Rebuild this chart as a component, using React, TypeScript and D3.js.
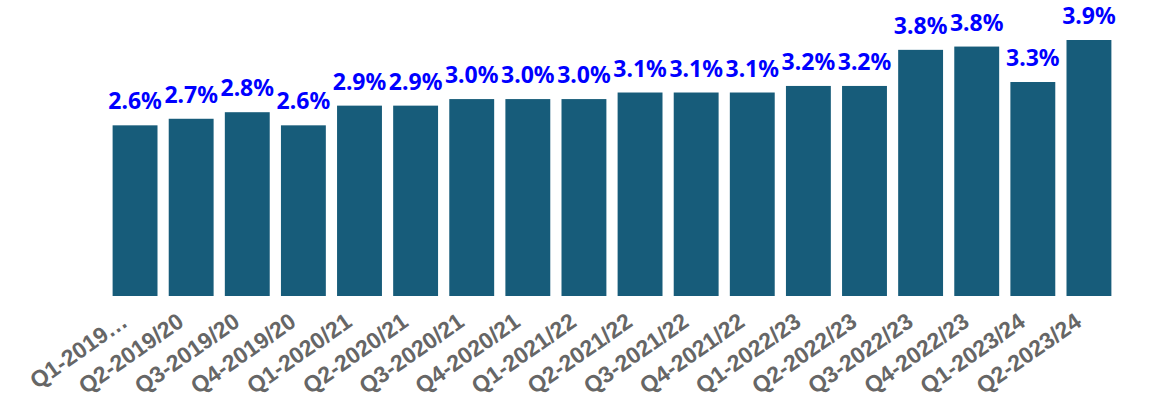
import React from 'react'
import * as d3 from 'd3'

const quarters = [
  'Q1-2019…', 'Q2-2019/20', 'Q3-2019/20', 'Q4-2019/20',
  'Q1-2020/21', 'Q2-2020/21', 'Q3-2020/21', 'Q4-2020/21',
  'Q1-2021/22', 'Q2-2021/22', 'Q3-2021/22', 'Q4-2021/22',
  'Q1-2022/23', 'Q2-2022/23', 'Q3-2022/23', 'Q4-2022/23',
  'Q1-2023/24', 'Q2-2023/24',
]
const rates = [
  2.6, 2.7, 2.8, 2.6, 2.9, 2.9, 3.0, 3.0, 3.0,
  3.1, 3.1, 3.1, 3.2, 3.2, 3.75, 3.8, 3.26, 3.9,
]

const width = 1149
const height = 398

const App: React.FC = () => {
  const x = d3.scaleBand<string>()
    .domain(quarters)
    .range([107, 1117])
    .paddingInner(0.2)
    .paddingOuter(0.1)

  const y = d3.scaleLinear()
    .domain([0, 3.9])
    .range([296, 40])

  return (
    <svg width={width} height={height} style={{ position: 'absolute', left: 0, top: 0 }}>
      {quarters.map((q, i) => (
        <rect key={q} x={x(q)} y={y(rates[i])} width={x.bandwidth()}
          height={y(0) - y(rates[i])} fill="#175c7a" />
      ))}
      {quarters.map((q, i) => (
        <text key={'v' + q} x={(x(q) as number) + x.bandwidth() / 2} y={y(rates[i]) - 16}
          textAnchor="middle" fill="#0000ff" fontFamily="'Noto Sans', sans-serif"
          fontWeight="bold" fontSize={23}>
          {rates[i].toFixed(1)}%
        </text>
      ))}
      {quarters.map(q => (
        <text key={'t' + q}
          transform={`translate(${(x(q) as number) + x.bandwidth() / 2 - 6},325) rotate(-35)`}
          textAnchor="end" fill="#666666" fontFamily="'Liberation Sans', Arial, sans-serif"
          fontWeight="bold" fontSize={23}>
          {q}
        </text>
      ))}
    </svg>
  )
}

export default App
